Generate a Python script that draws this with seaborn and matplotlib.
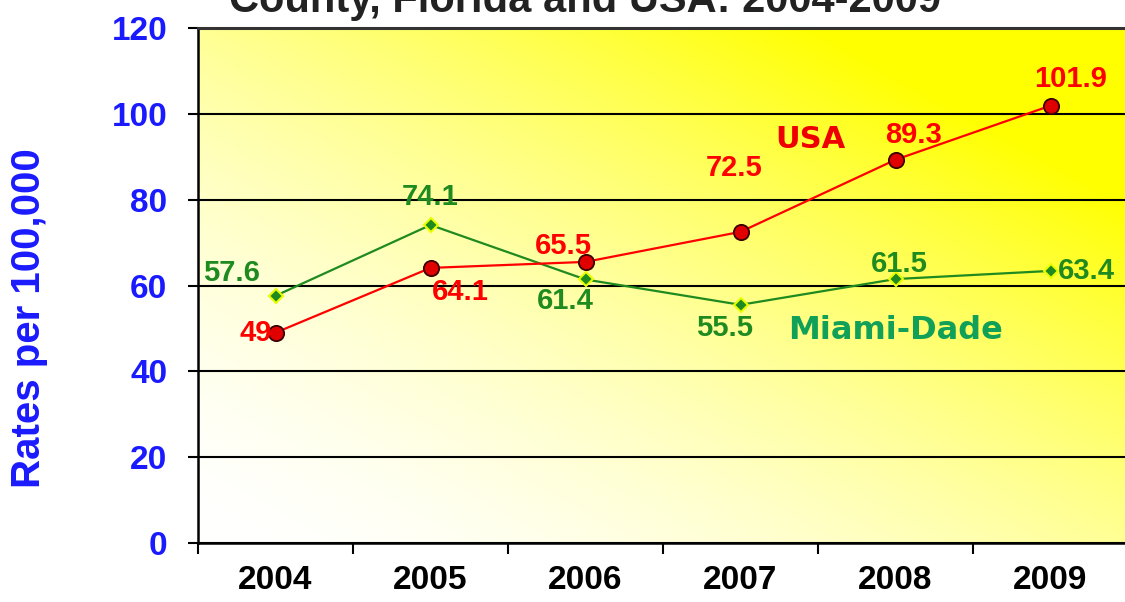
import seaborn as sns
import matplotlib.pyplot as plt
import numpy as np
import pandas as pd

# datos
anios = [2004, 2005, 2006, 2007, 2008, 2009]
usa = [49, 64.1, 65.5, 72.5, 89.3, 101.9]
miami_dade = [57.6, 74.1, 61.4, 55.5, 61.5, 63.4]
y_ticks = [0, 20, 40, 60, 80, 100, 120]

# desplazamiento de las etiquetas (en pixeles)
off_usa = [(-20, 0), (30, -24), (-22, 16), (-6, 64), (18, 25), (20, 27)]
off_md = [(-44, 23), (0, 28), (-20, -22), (-16, -23), (4, 15), (36, 0)]

rojo = '#ff0000'
verde = '#1f8a1f'

sns.set_theme(style='white')
plt.rcParams['font.family'] = ['Liberation Sans', 'DejaVu Sans']

fig = plt.figure(figsize=(11.25, 6.02), dpi=100)
ax = fig.add_axes([198 / 1125, 1 - 543 / 602, 930 / 1125, 515 / 602])

# Fondo degradado blanco -> amarillo
gx, gy = np.meshgrid(np.linspace(0, 1, 300), np.linspace(0, 1, 200))
t = np.clip((gx * 0.6 + gy * 0.6), 0, 1) ** 1.7
img = np.dstack([np.ones_like(t), np.ones_like(t), 1 - t])
ax.imshow(img, extent=[0, 1, 0, 1], transform=ax.transAxes, origin='lower',
          aspect='auto', zorder=0)

df = pd.DataFrame({'anio': anios, 'USA': usa, 'Miami-Dade': miami_dade})

sns.lineplot(data=df, x='anio', y='Miami-Dade', ax=ax, color=verde, lw=1.6,
             marker='D', markersize=7, markerfacecolor='#1f8a1f',
             markeredgecolor='#e8ff00', markeredgewidth=1.5, zorder=4)
sns.lineplot(data=df, x='anio', y='USA', ax=ax, color=rojo, lw=1.6,
             marker='o', markersize=11, markerfacecolor='#e00000',
             markeredgecolor='#3a0000', markeredgewidth=1.3, zorder=5)

for x, v, (dx, dy) in zip(anios, usa, off_usa):
    ax.annotate(f'{v:g}', (x, v), xytext=(dx, dy), textcoords='offset pixels',
                ha='center', va='center', color=rojo, fontsize=21,
                fontweight='bold', zorder=6)
for x, v, (dx, dy) in zip(anios, miami_dade, off_md):
    ax.annotate(f'{v:g}', (x, v), xytext=(dx, dy), textcoords='offset pixels',
                ha='center', va='center', color=verde, fontsize=21,
                fontweight='bold', zorder=6)

ax.text(2007.45, 94, 'USA', color='#ee0000', fontsize=22, fontweight='bold',
        ha='center', va='center', family='DejaVu Sans')
ax.text(2008.0, 49.5, 'Miami-Dade', color='#10a058', fontsize=23,
        fontweight='bold', ha='center', va='center', family='DejaVu Sans')

ax.set_xlim(2003.5, 2009.5)
ax.set_ylim(0, 120)
ax.set_yticks(y_ticks)
ax.set_xticks(anios)
ax.set_xticks(np.arange(2003.5, 2010, 1), minor=True)
ax.grid(axis='y', color='black', lw=1.5, zorder=1)
ax.set_axisbelow(True)

ax.tick_params(axis='x', which='major', length=0, pad=16, labelsize=24,
               labelcolor='black')
ax.tick_params(axis='x', which='minor', length=8, width=1.5, color='black',
               direction='out', bottom=True)
ax.tick_params(axis='y', length=7, width=1.5, color='black', left=True,
               labelsize=24, labelcolor='#1a1aff', pad=15)
for lab in ax.get_xticklabels() + ax.get_yticklabels():
    lab.set_fontweight('bold')

for s in ['left', 'bottom']:
    ax.spines[s].set_color('black')
    ax.spines[s].set_linewidth(1.8)
ax.spines['top'].set_color('#333333')
ax.spines['top'].set_linewidth(2.2)
ax.spines['right'].set_visible(False)

ax.set_xlabel('')
ax.set_ylabel('')
fig.text(29 / 1125, 1 - 318 / 602, 'Rates per 100,000', color='#1a1aff',
         fontsize=29, fontweight='bold', rotation=90, ha='center', va='center')

fig.text(0.52, 1.0 - 12 / 602, 'County, Florida and USA: 2004-2009',
         ha='center', va='baseline', fontsize=30, fontweight='bold',
         color='#222222')

fig.savefig('out.png', dpi=100)
